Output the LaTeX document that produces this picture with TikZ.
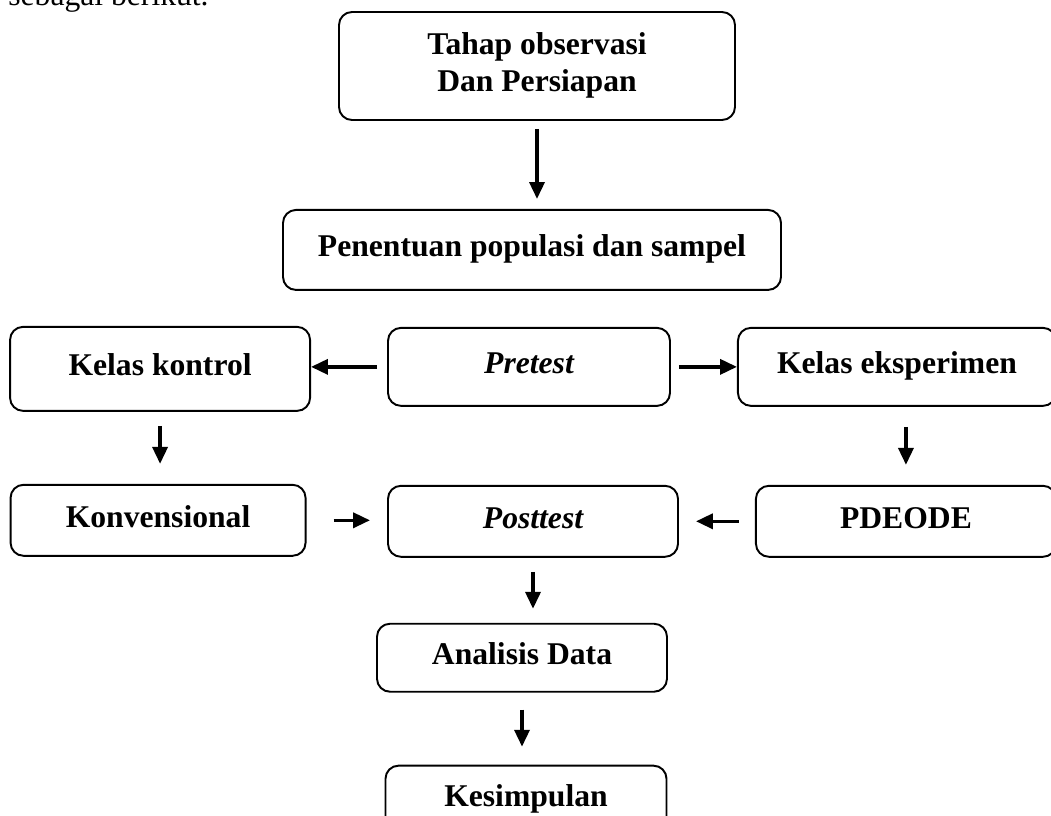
\documentclass[tikz,border=0pt]{standalone}
\usepackage{fontspec}
\setmainfont{Liberation Serif}
\usepackage{tikz}
\usetikzlibrary{arrows.meta,shapes,positioning}

\begin{document}
\begin{tikzpicture}
\tikzstyle{block}=[draw, shape=rectangle, rounded corners=0.26cm, line width=1.1pt, align=center, inner sep=0pt, text height=12pt, text depth=4pt, font=\fontsize{18}{21}\selectfont\bfseries]
\tikzstyle{panah}=[line width=2pt, -{Triangle[length=9.6pt, width=8.5pt]}]
\useasboundingbox (0,0) rectangle (21.02,-16.32);
\clip (0,0) rectangle (21.02,-16.32);
\node[anchor=base west, inner sep=0pt, font=\fontsize{18}{21}\selectfont] (10) at (0.16,-0.12) {sebagai berikut.};
\node[block, text height=33pt, minimum width=7.92cm, minimum height=2.16cm] (0) at (10.74,-1.32) {Tahap observasi\\Dan Persiapan};
\node[block, minimum width=9.96cm, minimum height=1.6cm] (1) [below=1.76cm of 0, xshift=-0.1cm] {Penentuan populasi dan sampel};
\node[block, minimum width=5.64cm, minimum height=1.56cm] (3) [below=0.72cm of 1, xshift=-0.06cm] {\itshape Pretest};
\node[block, minimum width=6cm, minimum height=1.68cm] (2) [left=1.52cm of 3, yshift=-0.04cm] {Kelas kontrol};
\node[block, minimum width=6.36cm, minimum height=1.56cm] (4) [right=1.32cm of 3] {Kelas eksperimen};
%baris kedua
\node[block, minimum width=5.9cm, minimum height=1.42cm] (5) [below=1.44cm of 2, xshift=-0.04cm] {Konvensional};
\node[block, minimum width=5.8cm, minimum height=1.42cm] (6) [below=1.56cm of 3, xshift=0.08cm] {\itshape Posttest};
\node[block, minimum width=6cm, minimum height=1.42cm] (7) [below=1.56cm of 4, xshift=0.18cm] {PDEODE};
\node[block, minimum width=5.8cm, minimum height=1.36cm] (8) [below=1.3cm of 6, xshift=-0.22cm] {Analisis Data};
\node[block, minimum width=5.62cm, minimum height=1.36cm] (9) [below=1.44cm of 8, xshift=0.08cm] {Kesimpulan};

\draw[panah, shorten <=0.16cm, shorten >=0.2cm] (0.south) to (0.south |- 1.north);
\draw[panah, shorten <=0.2cm] (3.west) to (3.west -| 2.east);
\draw[panah, shorten <=0.16cm] (3.east) to (3.east -| 4.west);
\draw[panah, shorten <=0.28cm, shorten >=0.4cm] (2.south) to (2.south |- 5.north);
\draw[panah, shorten <=0.4cm, shorten >=0.4cm] (7.north |- 4.south) to (7.north);
\draw[panah, shorten <=0.54cm, shorten >=0.34cm] (5.east) to (5.east -| 6.west);
\draw[panah, shorten <=0.32cm, shorten >=0.34cm] (7.west) to (7.west -| 6.east);
\draw[panah, shorten <=0.28cm, shorten >=0.28cm] (6.south) to (6.south |- 8.north);
\draw[panah, shorten <=0.34cm, shorten >=0.36cm] (8.south) to (8.south |- 9.north);

\end{tikzpicture}
\end{document}
